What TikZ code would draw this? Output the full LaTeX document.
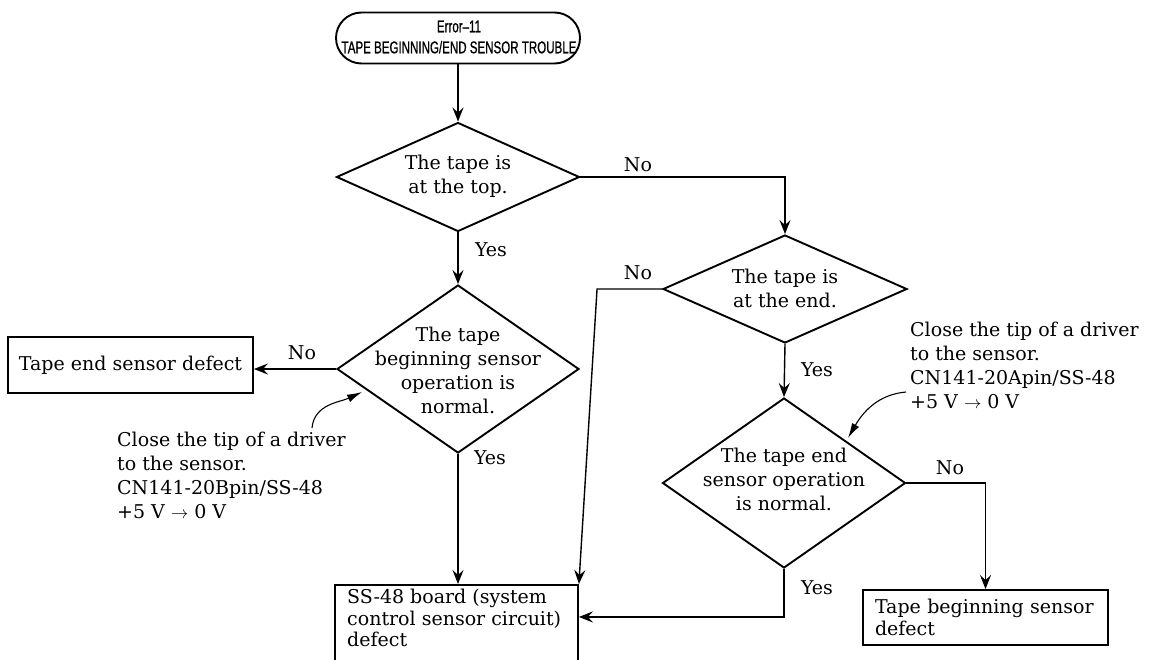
\documentclass[tikz,border=0pt]{standalone}
\usepackage{fontspec}
\setmainfont{DejaVu Serif}
\newfontfamily\titlefont[FakeStretch=0.68,FakeBold=0.8]{Liberation Sans}
\usetikzlibrary{shapes.geometric,shapes.misc,arrows.meta}
\begin{document}
\begin{tikzpicture}[x=1pt,y=-1pt,
  txt/.style={font=\fontsize{19}{24}\selectfont, inner sep=0pt},
  boxtxt/.style={font=\fontsize{19}{21.5}\selectfont, inner sep=0pt},
  dia/.style={draw, diamond, inner sep=0pt, line width=1.9pt},
  box/.style={draw, rectangle, inner sep=0pt, line width=1.9pt},
  term/.style={draw, rounded rectangle, inner sep=0pt, line width=1.9pt},
  arr/.style={line width=1.4pt, -{Stealth[length=14pt,width=11pt,inset=5pt]}},
  note/.style={line width=1.1pt, -{Latex[length=15pt,width=8pt]}},
  lbl/.style={font=\fontsize{19}{24}\selectfont, inner sep=0pt}]
\useasboundingbox (0,0) rectangle (1156,659);

% terminator
\node[term, minimum width=244pt, minimum height=51pt] (t) at (458,38) {};
\node[font=\titlefont\fontsize{17}{21}\selectfont, align=center, inner sep=0pt] (tt) at (459,37)
  {Error–11\\TAPE BEGINNING/END SENSOR TROUBLE};

% decisions
\node[dia, minimum width=243pt, minimum height=109pt] (d1) at (458,177) {};
\node[txt, align=center] (d1t) at (458,176) {The tape is\\at the top.};

\node[dia, minimum width=244pt, minimum height=108pt] (d2) at (785,289) {};
\node[txt, align=center] (d2t) at (785,288) {The tape is\\at the end.};

\node[dia, minimum width=242pt, minimum height=168pt] (d3) at (458,369) {};
\node[txt, align=center] (d3t) at (458,370) {The tape\\beginning sensor\\operation is\\normal.};

\node[dia, minimum width=243pt, minimum height=170pt] (d4) at (784,483) {};
\node[txt, align=center] (d4t) at (784,479) {The tape end\\sensor operation\\is normal.};

% result boxes
\node[box, boxtxt, minimum width=245pt, minimum height=56pt] (te) at (130.5,365) {Tape end sensor defect};
\node[box, boxtxt, minimum width=245pt, minimum height=55pt, text width=221pt, align=left, inner xsep=12pt]
  (tb) at (985.5,617.5) {Tape beginning sensor\\defect};
\node[box, minimum width=243pt, minimum height=84pt, anchor=north west] (ss) at (334,584) {};
\node[boxtxt, anchor=north west, align=left] (sst) at (347,589) {SS-48 board (system\\control sensor circuit)\\defect};

% notes
\node[txt, align=left, anchor=north west] (n1) at (117,432)
  {Close the tip of a driver\\to the sensor.\\CN141-20Bpin/SS-48\\+5 V $\rightarrow$ 0 V};
\node[txt, align=left, anchor=north west] (n2) at (910,322)
  {Close the tip of a driver\\to the sensor.\\CN141-20Apin/SS-48\\+5 V $\rightarrow$ 0 V};
\coordinate (n1s) at (312,428);
\coordinate (n1e) at (362,392);
\coordinate (n2s) at (906,392);
\coordinate (n2e) at (848,438);
\draw[note] (n1s) to[out=85,in=205] (n1e);
\draw[note] (n2s) to[out=185,in=60] (n2e);

% connectors
\draw[arr] (t.south) -- (d1.north);
\draw[arr] (d1.east) -| (d2.north);
\draw[arr] (d1.south) -- (d3.north);
\draw[arr] (d3.west) -- (d3.west -| te.east);
\draw[arr] (d3.south) -- (d3.south |- ss.north);
\draw[arr] (d2.west) -- ++(-65,0) -- (ss.north east);
\draw[arr] (d2.south) -- (d4.north);
\draw[arr] (d4.east) -| (tb.north);
\draw[arr] (d4.south) |- ([yshift=10pt]ss.east);

% labels
\node[lbl] (l1) at (638,165) {No};
\node[lbl] (l2) at (491,250) {Yes};
\node[lbl] (l3) at (638,273) {No};
\node[lbl] (l4) at (302,353) {No};
\node[lbl] (l5) at (817,370) {Yes};
\node[lbl] (l6) at (490,458) {Yes};
\node[lbl] (l7) at (950,468) {No};
\node[lbl] (l8) at (817,588) {Yes};
\end{tikzpicture}
\end{document}
